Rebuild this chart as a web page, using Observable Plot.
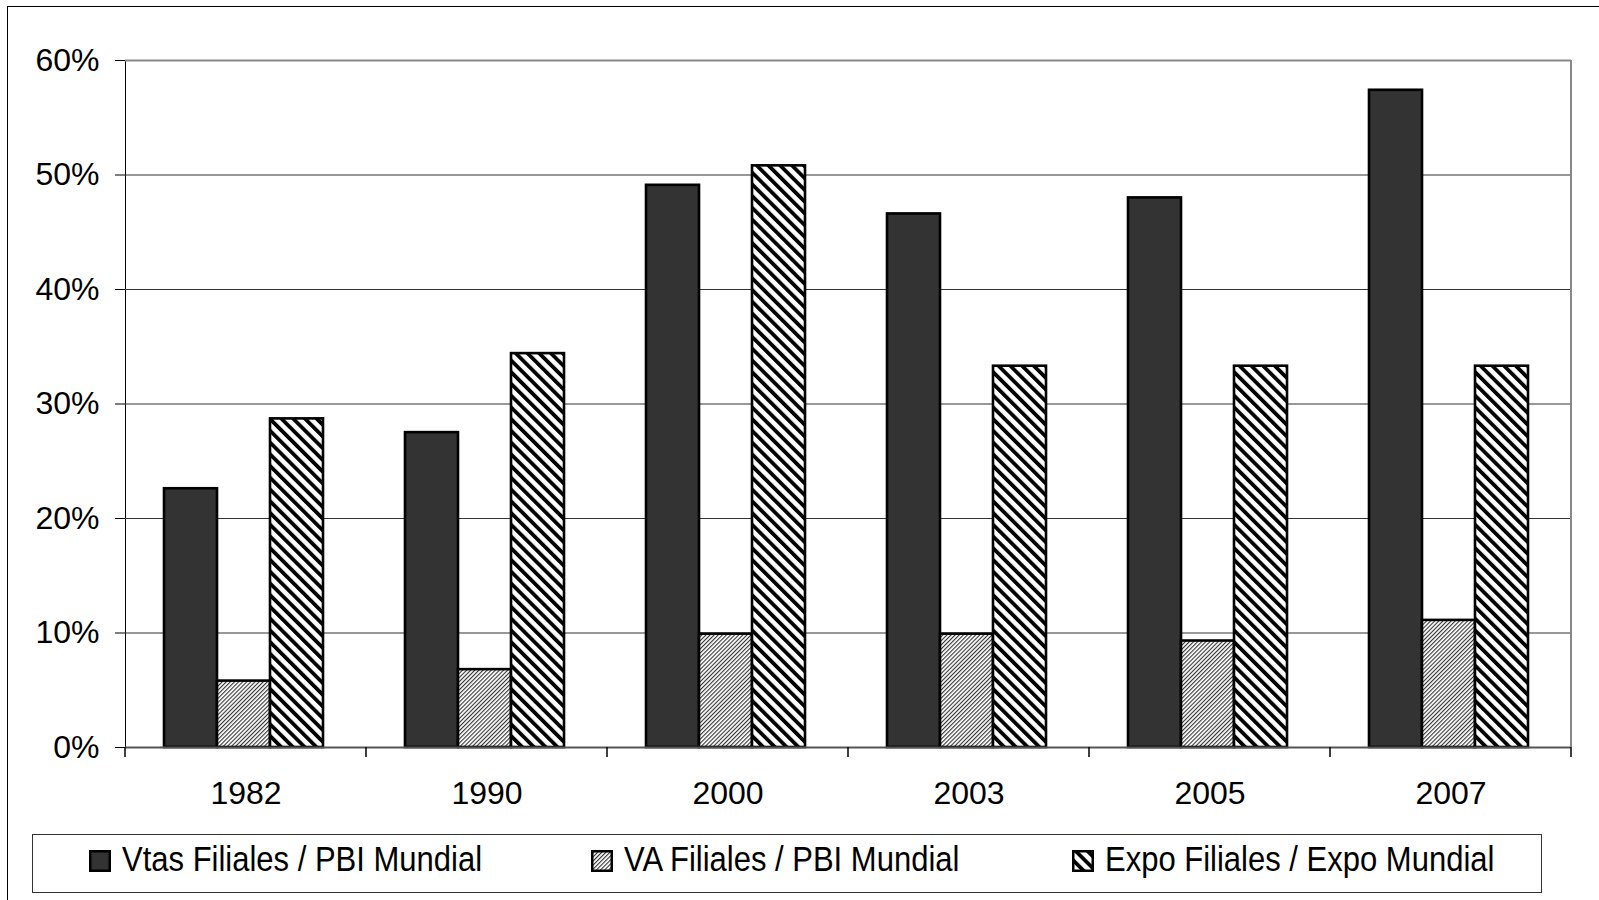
<!DOCTYPE html>
<html>
<head>
<meta charset="utf-8">
<script src="https://cdn.jsdelivr.net/npm/d3@7"></script>
<script src="https://cdn.jsdelivr.net/npm/@observablehq/plot@0.6"></script>
<style>
html,body{margin:0;padding:0;background:#fff;}
body{width:1599px;height:900px;overflow:hidden;position:relative;font-family:"Liberation Sans",Arial,sans-serif;}
#frame{position:absolute;left:7px;top:6px;width:1610px;height:910px;border:1.5px solid #000;box-sizing:border-box;}
#chart{position:absolute;left:0;top:0;}
#defs{position:absolute;left:0;top:0;width:0;height:0;}
#legend{position:absolute;left:32px;top:834px;width:1510px;height:59px;border:1.5px solid #333;box-sizing:border-box;background:#fff;}
.item{position:absolute;top:-4px;height:100%;display:flex;align-items:center;font-size:31px;white-space:nowrap;color:#000;}
.item svg{margin-right:11px;margin-top:3px;}
.item span{display:inline-block;transform:scaleY(1.12);transform-origin:50% 55%;}
</style>
</head>
<body>
<svg id="defs" width="0" height="0">
  <defs>
    <pattern id="hatchExpo" patternUnits="userSpaceOnUse" width="8.3" height="8.3" patternTransform="rotate(-45)">
      <rect width="8.3" height="8.3" fill="#fff"/>
      <rect width="3.8" height="8.3" fill="#000"/>
    </pattern>
    <pattern id="hatchVA" patternUnits="userSpaceOnUse" width="2.9" height="2.9" patternTransform="rotate(45)">
      <rect width="2.9" height="2.9" fill="#fff"/>
      <rect width="1.1" height="2.9" fill="#333"/>
    </pattern>
  </defs>
</svg>
<div id="frame"></div>
<div id="chart"></div>
<div id="legend"></div>
<script>
// ---- data ----
const years = ["1982", "1990", "2000", "2003", "2005", "2007"];
const seriesNames = ["Vtas Filiales / PBI Mundial", "VA Filiales / PBI Mundial", "Expo Filiales / Expo Mundial"];
const vtas = [22.6, 27.5, 49.1, 46.6, 48.0, 57.4];
const va   = [5.8, 6.8, 9.9, 9.9, 9.3, 11.1];
const expo = [28.7, 34.4, 50.8, 33.3, 33.3, 33.3];
const seriesFills = ["#333333", "url(#hatchVA)", "url(#hatchExpo)"];
const legendLeft = [56, 558, 1039];

const seriesValues = [vtas, va, expo];
const data = years.flatMap((year, i) =>
  seriesNames.map((series, s) => ({year, series, value: seriesValues[s][i] / 100}))
);

const chart = Plot.plot({
  width: 1599,
  height: 830,
  marginLeft: 124,
  marginRight: 28,
  marginTop: 60,
  marginBottom: 83,
  style: {fontFamily: '"Liberation Sans", Arial, sans-serif', fontSize: "32px", color: "#000", background: "transparent", overflow: "visible"},
  fx: {domain: years, padding: 0, axis: "bottom", label: null, tickSize: 0, tickPadding: 34},
  x: {domain: seriesNames, paddingInner: 0, paddingOuter: 0.74, align: 0.48, axis: null},
  y: {domain: [0, 0.6], ticks: 6, tickFormat: d3.format(".0%"), tickSize: 10, tickPadding: 16, label: null, line: true},
  color: {domain: seriesNames, range: seriesFills},
  marks: [
    Plot.ruleY([0.1, 0.2, 0.3, 0.4, 0.5], {stroke: "#333", strokeWidth: 1.2}),
    Plot.ruleY([0.6], {stroke: "#888", strokeWidth: 2}),
    Plot.barY(data, {fx: "year", x: "series", y: "value", fill: "series", stroke: "#000", strokeWidth: 2.6}),
    Plot.ruleY([0], {stroke: "#555", strokeWidth: 2})
  ]
});
document.getElementById("chart").appendChild(chart);

// boundary ticks on the category axis and the plot-area right border
const fxs = chart.scale("fx"), ys = chart.scale("y");
const y0 = ys.apply ? ys.apply(0) : ys.range[0];
const yTop = ys.apply ? ys.apply(0.6) : ys.range[1];
let edges;
if (fxs.apply) {
  edges = fxs.domain.map(d => fxs.apply(d));
  edges.push(edges[edges.length - 1] + fxs.bandwidth);
} else {
  edges = d3.range(fxs.domain.length + 1).map(i => fxs.range[0] + i * fxs.step);
}
const svg = d3.select(chart);
svg.append("line")
  .attr("x1", edges[edges.length - 1]).attr("x2", edges[edges.length - 1])
  .attr("y1", yTop).attr("y2", y0)
  .attr("stroke", "#888").attr("stroke-width", 2);
svg.append("g").selectAll("line").data(edges).join("line")
  .attr("x1", d => d).attr("x2", d => d)
  .attr("y1", y0).attr("y2", y0 + 10)
  .attr("stroke", "#000").attr("stroke-width", 1.5);

// legend
const legend = d3.select("#legend");
seriesNames.forEach((name, i) => {
  const item = legend.append("div").attr("class", "item").style("left", legendLeft[i] + "px");
  const sw = item.append("svg").attr("width", 22).attr("height", 22);
  sw.append("rect").attr("x", 1.25).attr("y", 1.25).attr("width", 19.5).attr("height", 19.5)
    .attr("fill", seriesFills[i]).attr("stroke", "#000").attr("stroke-width", 2.5);
  item.append("span").text(name);
});
</script>
</body>
</html>
